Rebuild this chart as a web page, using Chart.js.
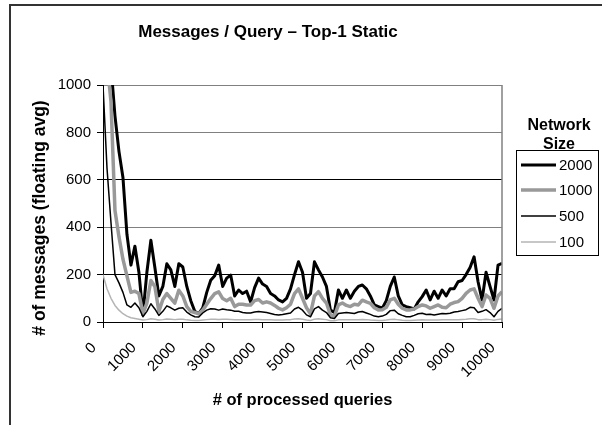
<!DOCTYPE html>
<html><head><meta charset="utf-8">
<script src="https://cdn.jsdelivr.net/npm/chart.js@4"></script>
<style>html,body{margin:0;padding:0;background:#fff;} #wrap{position:relative;width:602px;height:425px;} canvas{display:block;}</style>
</head><body><div id="wrap"><canvas id="c" width="602" height="425"></canvas></div>
<script>
const chartTitle = 'Messages / Query \u2013 Top-1 Static';
const xTitle = '# of processed queries';
const yTitle = '# of messages (floating avg)';
const legendTitle = ['Network', 'Size'];
const seriesNames = ['2000', '1000', '500', '100'];
const xTickValues = [0,1000,2000,3000,4000,5000,6000,7000,8000,9000,10000];
const yTickValues = [0,200,400,600,800,1000];
const queries = [0,100,200,300,400,500,600,700,800,900,1000,1100,1200,1300,1400,1500,1600,1700,1800,1900,2000,2100,2200,2300,2400,2500,2600,2700,2800,2900,3000,3100,3200,3300,3400,3500,3600,3700,3800,3900,4000,4100,4200,4300,4400,4500,4600,4700,4800,4900,5000,5100,5200,5300,5400,5500,5600,5700,5800,5900,6000,6100,6200,6300,6400,6500,6600,6700,6800,6900,7000,7100,7200,7300,7400,7500,7600,7700,7800,7900,8000,8100,8200,8300,8400,8500,8600,8700,8800,8900,9000,9100,9200,9300,9400,9500,9600,9700,9800,9900,10000];
const net2000 = [1300,1200,1080,870,720,610,370,240,320,210,30,210,345,230,110,150,246,220,150,246,232,150,90,45,35,60,125,176,195,240,150,185,198,110,135,120,130,85,145,185,160,150,120,110,93,85,100,140,200,254,210,100,120,254,220,190,150,50,40,135,100,135,100,130,150,156,140,110,72,65,58,90,150,190,110,72,65,60,55,85,107,135,93,130,100,135,110,140,140,170,175,200,230,275,170,93,210,150,93,240,247];
const net1000 = [1200,1100,930,470,360,265,195,125,130,120,35,80,175,150,45,95,120,100,80,134,110,65,45,40,35,50,75,99,120,127,99,90,100,65,75,75,72,72,90,95,80,85,80,70,58,51,60,75,120,140,100,60,35,110,128,100,80,30,25,72,80,70,65,75,72,92,85,79,60,51,52,62,93,100,75,58,51,51,55,65,72,68,58,65,72,62,60,75,82,86,100,121,135,140,100,65,114,100,58,110,128];
const net500 = [1000,650,420,200,165,125,72,62,80,60,22,45,77,55,28,45,68,60,50,58,60,42,30,22,21,38,50,56,55,50,55,52,50,45,45,40,38,38,42,44,42,40,36,32,30,32,35,38,55,62,50,30,22,55,65,50,40,18,15,36,38,40,38,36,42,44,38,32,25,22,25,32,48,50,35,28,22,22,28,35,37,32,33,30,33,36,35,37,42,44,48,52,62,60,40,45,52,40,22,45,58];
const net100 = [200,140,100,70,50,35,25,18,15,12,8,10,14,12,8,10,13,12,10,12,12,9,7,6,6,8,10,12,12,11,12,12,11,10,10,9,9,10,11,11,10,10,9,8,8,8,9,10,13,14,12,8,6,12,14,12,10,5,5,9,10,10,10,9,10,11,10,8,7,6,6,8,11,12,9,7,6,6,7,8,9,8,8,8,8,9,9,9,10,10,11,12,14,14,10,10,12,10,7,11,13];

const FONT = '"Liberation Sans", Arial, sans-serif';
const seriesValues = [net2000, net1000, net500, net100];
const seriesColors = ['#000000', '#999999', '#000000', '#b4b4b4'];
const seriesWidths = [3, 3.5, 1.5, 1.5];

const decor = {
  id: 'decor',
  afterDraw(chart) {
    const ctx = chart.ctx, a = chart.chartArea;
    ctx.save();
    ctx.strokeStyle = '#808080'; ctx.lineWidth = 1.5;
    ctx.beginPath(); ctx.moveTo(a.right, a.top); ctx.lineTo(a.right, a.bottom); ctx.stroke();
    ctx.strokeStyle = '#333'; ctx.lineWidth = 2;
    ctx.beginPath(); ctx.moveTo(10, 425); ctx.lineTo(10, 5); ctx.lineTo(602, 5); ctx.stroke();
    ctx.fillStyle = '#000';
    ctx.font = 'bold 17px ' + FONT; ctx.textAlign = 'center'; ctx.textBaseline = 'middle';
    ctx.fillText(chartTitle, 268, 32);
    ctx.font = 'bold 16.5px ' + FONT;
    ctx.fillText(xTitle, (a.left + a.right) / 2, 400);
    ctx.font = 'bold 17.5px ' + FONT;
    ctx.save(); ctx.translate(40, 218); ctx.rotate(-Math.PI / 2); ctx.fillText(yTitle, 0, 0); ctx.restore();
    ctx.font = 'bold 16px ' + FONT;
    ctx.fillText(legendTitle[0], 559, 126);
    ctx.fillText(legendTitle[1], 559, 145);
    ctx.strokeStyle = '#000'; ctx.lineWidth = 1;
    ctx.strokeRect(516.5, 150.5, 82, 105);
    ctx.font = '15px ' + FONT; ctx.textAlign = 'left';
    const rows = [165, 190, 216, 242];
    chart.data.datasets.forEach((ds, i) => {
      ctx.strokeStyle = ds.borderColor; ctx.lineWidth = ds.borderWidth;
      ctx.beginPath(); ctx.moveTo(521, rows[i]); ctx.lineTo(556, rows[i]); ctx.stroke();
      ctx.fillStyle = '#000';
      ctx.fillText(ds.label, 559, rows[i] + 1);
    });
    ctx.restore();
  }
};

new Chart(document.getElementById('c'), {
  type: 'line',
  data: {
    datasets: seriesNames.map((name, i) => ({
      label: name,
      data: queries.map((q, j) => ({ x: q, y: seriesValues[i][j] })),
      borderColor: seriesColors[i],
      backgroundColor: seriesColors[i],
      borderWidth: seriesWidths[i],
      order: 4 - i,
      fill: false
    }))
  },
  options: {
    responsive: false, animation: false, devicePixelRatio: 1,
    layout: { padding: { top: 85, right: 100, left: 0, bottom: 0 } },
    elements: { point: { radius: 0 }, line: { tension: 0, borderJoinStyle: 'round', borderCapStyle: 'butt' } },
    plugins: { legend: { display: false }, title: { display: false }, tooltip: { enabled: false } },
    scales: {
      x: {
        type: 'linear', min: 0, max: 10000,
        afterBuildTicks: s => { s.ticks = xTickValues.map(v => ({ value: v })); },
        ticks: { minRotation: 45, maxRotation: 45, autoSkip: false, font: { family: FONT, size: 15 }, color: '#000', padding: 11, labelOffset: -9, callback: v => String(v) },
        grid: { display: true, drawOnChartArea: false, tickLength: 6, color: '#000' },
        border: { display: true, color: '#000', width: 1 },
        afterFit: s => { s.height = 103; }
      },
      y: {
        min: 0, max: 1000,
        afterBuildTicks: s => { s.ticks = yTickValues.map(v => ({ value: v })); },
        ticks: { font: { family: FONT, size: 15 }, color: '#000', padding: 6, callback: v => String(v) },
        grid: { color: c => (c.tick && (c.tick.value === 1000 || c.tick.value === 800 || c.tick.value === 400)) ? '#808080' : '#000', tickColor: '#000', tickLength: 6, lineWidth: 1 },
        border: { display: true, color: '#000', width: 1 },
        afterFit: s => { s.width = 103; }
      }
    }
  },
  plugins: [decor]
});
</script>
</body></html>
